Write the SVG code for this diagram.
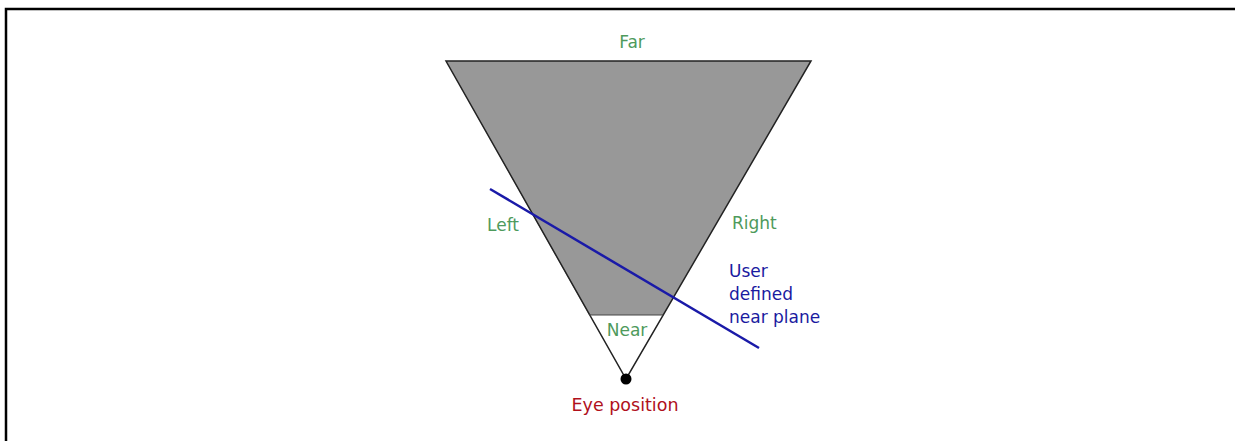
<svg xmlns="http://www.w3.org/2000/svg" width="1235" height="441" viewBox="0 0 1235 441">
<style>
.lbl{font-family:"DejaVu Sans",Verdana,sans-serif;font-size:17px}
.g{fill:#4e9a5c}
.b{fill:#1a1aa0}
.r{fill:#b0101c}
.edge{stroke:#222;stroke-width:1.5;fill:none}
</style>
<rect width="1235" height="441" fill="#fff"/>
<path d="M6,441 V9 H1235" fill="none" stroke="#000" stroke-width="2.5"/>
<g id="frustum">
<polygon points="446,61 811,61 663,315 589,315" fill="#989898"/>
<polygon points="589,315 663,315 626,379" fill="#fff"/>
<path class="edge" d="M446,61 H811 L626,379 Z"/>
<line x1="589" y1="315" x2="663" y2="315" stroke="#444" stroke-width="1"/>
</g>
<g id="eye">
<circle cx="626" cy="379" r="5.5" fill="#000"/>
</g>
<g id="connectors">
<line x1="490" y1="189" x2="759" y2="348" stroke="#1a1aa8" stroke-width="2.5"/>
</g>
<g id="labels">
<text class="lbl g" x="632" y="48" text-anchor="middle">Far</text>
<text class="lbl g" x="487" y="231">Left</text>
<text class="lbl g" x="732" y="229">Right</text>
<text class="lbl g" x="627" y="336" text-anchor="middle">Near</text>
<text class="lbl b" x="729" y="277">User</text>
<text class="lbl b" x="729" y="300">defined</text>
<text class="lbl b" x="729" y="323">near plane</text>
<text class="lbl r" x="625" y="411" text-anchor="middle" style="font-size:17.5px">Eye position</text>
</g>
</svg>
